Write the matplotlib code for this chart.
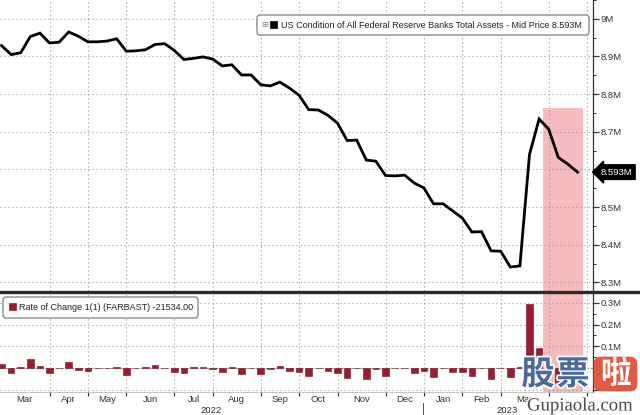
import matplotlib
matplotlib.use('Agg')
import matplotlib.pyplot as plt
import matplotlib.transforms as mtransforms
import matplotlib.patheffects as pe
from matplotlib.patches import FancyBboxPatch, Rectangle
from matplotlib.lines import Line2D
import pandas as pd

FONT = ['Liberation Sans Narrow', 'Liberation Sans', 'DejaVu Sans']
plt.rcParams['font.family'] = FONT

# ---------------- data ----------------
dates = pd.date_range('2022-02-23', '2023-04-19', freq='7D')
# Total assets, in millions of millions ("M" on the axis)
assets = [8.929, 8.905, 8.910, 8.953, 8.962, 8.936, 8.938, 8.965, 8.954, 8.939,
          8.939, 8.941, 8.947, 8.914, 8.915, 8.918, 8.932, 8.934, 8.916, 8.892,
          8.895, 8.899, 8.893, 8.875, 8.878, 8.851, 8.851, 8.825, 8.822, 8.832,
          8.816, 8.797, 8.759, 8.758, 8.744, 8.723, 8.677, 8.678, 8.625, 8.622,
          8.584, 8.583, 8.585, 8.564, 8.551, 8.509, 8.509, 8.490, 8.471, 8.434,
          8.435, 8.384, 8.383, 8.341, 8.344, 8.640, 8.734, 8.707, 8.632, 8.614,
          8.593]
# Rate of change 1(1), in M
roc = [0.017, -0.024, 0.005, 0.042, 0.009, -0.025, 0.002, 0.027, -0.010, -0.014,
       0.000, 0.002, 0.005, -0.033, 0.001, 0.003, 0.014, 0.002, -0.018, -0.023,
       0.003, 0.004, -0.006, -0.018, 0.003, -0.027, 0.000, -0.026, -0.003, 0.010,
       -0.016, -0.019, -0.038, -0.001, -0.014, -0.021, -0.046, 0.001, -0.053, -0.003,
       -0.038, -0.001, 0.002, -0.021, -0.013, -0.042, 0.000, -0.019, -0.019, -0.037,
       0.001, -0.051, -0.001, -0.042, 0.003, 0.296, 0.094, -0.027, -0.075, -0.018,
       -0.0215]
grid_dates = pd.to_datetime(['2022-03-30', '2022-04-27', '2022-05-25', '2022-06-29',
                             '2022-07-27', '2022-08-31', '2022-09-28', '2022-10-26',
                             '2022-11-30', '2022-12-28', '2023-01-25', '2023-02-22',
                             '2023-03-29', '2023-04-26'])
# last April label is hidden behind the watermark in the reference
month_labels = ['Mar', 'Apr', 'May', 'Jun', 'Jul', 'Aug', 'Sep', 'Oct', 'Nov',
                'Dec', 'Jan', 'Feb', 'Mar', '']
top_ticks = [8.3, 8.4, 8.5, 8.6, 8.7, 8.8, 8.9, 9.0]
top_tick_labels = ['8.3M', '8.4M', '8.5M', '', '8.7M', '8.8M', '8.9M', '9M']
bot_ticks = [-0.1, 0.0, 0.1, 0.2, 0.3]
bot_tick_labels = ['', '', '0.1M', '0.2M', '0.3M']
last_label = '8.593M'
legend_top = 'US Condition of All Federal Reserve Banks Total Assets - Mid Price 8.593M'
legend_bot = 'Rate of Change 1(1) (FARBAST) -21534.00'
shade_start, shade_end, shade_top = pd.Timestamp('2023-03-25'), pd.Timestamp('2023-04-23'), 8.743

# ---------------- figure ----------------
W, H = 640, 415
FS = 6.5
fig = plt.figure(figsize=(W / 100, H / 100), dpi=100)
fig.patch.set_facecolor('white')
PX = mtransforms.Affine2D().scale(1 / W, -1 / H).translate(0, 1) + fig.transFigure

def frac_box(x0, y0, x1, y1):
    return [x0 / W, 1 - y1 / H, (x1 - x0) / W, (y1 - y0) / H]

ax1 = fig.add_axes(frac_box(0, 0, 593, 291))
ax2 = fig.add_axes(frac_box(0, 293, 593, 392))

x_left = pd.Timestamp('2022-02-23') - pd.Timedelta(days=1.1)
x_right = pd.Timestamp('2022-02-23') + pd.Timedelta(days=431.3)

GRID = dict(color='#a0a0a0', linestyle=(0, (1, 2.2)), linewidth=0.9)
RED = '#9B1B30'
PINK = '#F4B4B7'
TXT = '#333333'

for ax in (ax1, ax2):
    ax.set_xlim(x_left, x_right)
    for s in ('top', 'left', 'bottom'):
        ax.spines[s].set_visible(False)
    ax.spines['right'].set_color(TXT)
    ax.spines['right'].set_linewidth(0.9)
    ax.yaxis.tick_right()
    ax.tick_params(axis='y', which='major', direction='out', length=4, width=0.9,
                   colors=TXT, labelsize=FS + 0.3, pad=1.5, labelcolor=TXT)
    ax.tick_params(axis='y', which='minor', direction='out', length=2, width=0.7,
                   colors=TXT)
    for gd in grid_dates:
        ax.axvline(gd, zorder=1, **GRID)
    ax.set_facecolor('none')

# top panel
ax1.set_ylim(8.2774, 9.0178)
ax1.set_yticks(top_ticks)
ax1.set_yticklabels(top_tick_labels)
ax1.set_yticks([t + 0.05 for t in top_ticks], minor=True)
for t in top_ticks:
    ax1.axhline(t, zorder=1, **GRID)
frac = (shade_top - 8.2774) / (9.0178 - 8.2774)
ax1.axvspan(shade_start, shade_end, ymin=0, ymax=frac, color=PINK, alpha=0.9, lw=0, zorder=0.5)
ax1.plot(dates, assets, color='black', lw=2.0, zorder=3, solid_joinstyle='miter')
ax1.set_xticks([])
ax1.tick_params(axis='x', which='both', length=0)
ax1.text(1.013, assets[-1], last_label,
         transform=mtransforms.blended_transform_factory(ax1.transAxes, ax1.transData),
         ha='left', va='center', color='white', fontsize=FS + 0.3, zorder=10, clip_on=False,
         bbox=dict(boxstyle='larrow,pad=0.3', fc='black', ec='black'))

# bottom panel
ax2.set_ylim(-0.111, 0.346)
ax2.set_yticks(bot_ticks)
ax2.set_yticklabels(bot_tick_labels)
ax2.set_yticks([t + 0.05 for t in bot_ticks[:-1]], minor=True)
for t in bot_ticks:
    if t == 0:
        ax2.axhline(t, color='#9a9a9a', lw=0.8, linestyle=(0, (3, 1.5)), zorder=1)
    else:
        ax2.axhline(t, zorder=1, **GRID)
ax2.axvspan(shade_start, shade_end, color=PINK, alpha=0.9, lw=0, zorder=0.5)
ax2.bar(dates, roc, width=4.9, color=RED, edgecolor='#6e1020', linewidth=0.4, zorder=3)

bounds = [x_left] + list(grid_dates) + [x_right]
mids = [bounds[i] + (bounds[i + 1] - bounds[i]) / 2 for i in range(len(month_labels))]
ax2.set_xticks(grid_dates)
ax2.set_xticklabels([])
ax2.set_xticks(mids, minor=True)
ax2.set_xticklabels(month_labels, minor=True)
ax2.tick_params(axis='x', which='major', direction='out', length=3, width=0.8, colors=TXT)
ax2.tick_params(axis='x', which='minor', length=0, labelsize=FS + 0.3, pad=2.5, labelcolor=TXT)
ax2.spines['bottom'].set_visible(True)
ax2.spines['bottom'].set_color('#bbbbbb')
ax2.spines['bottom'].set_linewidth(0.6)

# year labels
fig.text(211 / W, 1 - 410.5 / H, '2022', ha='center', va='center', fontsize=FS + 0.3, color=TXT)
fig.text(507 / W, 1 - 410.5 / H, '2023', ha='center', va='center', fontsize=FS + 0.3, color=TXT)
fig.add_artist(Line2D([423, 423], [403, 415], transform=PX, color='#555555', lw=0.7))

# separator between panels
fig.add_artist(Line2D([0, 640], [292, 292], transform=PX, color='#2b2b2b', lw=2.4, zorder=5))

# legends
lg1 = FancyBboxPatch((257, 15), 332, 20, boxstyle='round,pad=0,rounding_size=3',
                     transform=PX, fc='white', ec='#808080', lw=0.9, zorder=6)
fig.add_artist(lg1)
fig.text(265 / W, 1 - 24.5 / H, '\u229e', ha='center', va='center', fontsize=6,
         color='#888888', family='DejaVu Sans', zorder=7)
fig.add_artist(Rectangle((270, 21), 7, 7, transform=PX, fc='black', ec='black', lw=0.5, zorder=7))
fig.text(281 / W, 1 - 25 / H, legend_top, ha='left', va='center', fontsize=FS,
         color='#222222', zorder=7)

lg2 = FancyBboxPatch((3, 297), 195, 21, boxstyle='round,pad=0,rounding_size=3',
                     transform=PX, fc='white', ec='#808080', lw=0.9, zorder=6)
fig.add_artist(lg2)
fig.add_artist(Rectangle((9, 303), 7, 7, transform=PX, fc=RED, ec=RED, lw=0.5, zorder=7))
fig.text(19 / W, 1 - 307.5 / H, legend_bot, ha='left', va='center', fontsize=FS,
         color='#222222', zorder=7)

# watermark
CJK = ['Noto Sans CJK SC', 'DejaVu Sans']
stroke = [pe.withStroke(linewidth=2.5, foreground='white')]
fig.text(538 / W, 1 - 375 / H, '股', ha='center', va='center', fontsize=24, color='#4A6A9C',
         family=CJK, weight='bold', zorder=20, path_effects=stroke)
fig.text(573 / W, 1 - 375 / H, '票', ha='center', va='center', fontsize=24, color='#4A6A9C',
         family=CJK, weight='bold', zorder=20, path_effects=stroke)
wm = FancyBboxPatch((594, 357), 43, 34, boxstyle='round,pad=0,rounding_size=7',
                    transform=PX, fc='#E05A45', ec='#E05A45', lw=0.5, zorder=20)
fig.add_artist(wm)
fig.text(615.5 / W, 1 - 374 / H, '啦', ha='center', va='center', fontsize=22, color='white',
         family=CJK, weight='bold', zorder=21)
fig.text(580 / W, 1 - 406 / H, 'Gupiaola.com', ha='center', va='center', fontsize=13.5,
         color='#4a4a4a', family=['Liberation Serif', 'DejaVu Serif'], zorder=20,
         path_effects=[pe.withStroke(linewidth=2, foreground='white')])

fig.savefig('out.png', dpi=100)
